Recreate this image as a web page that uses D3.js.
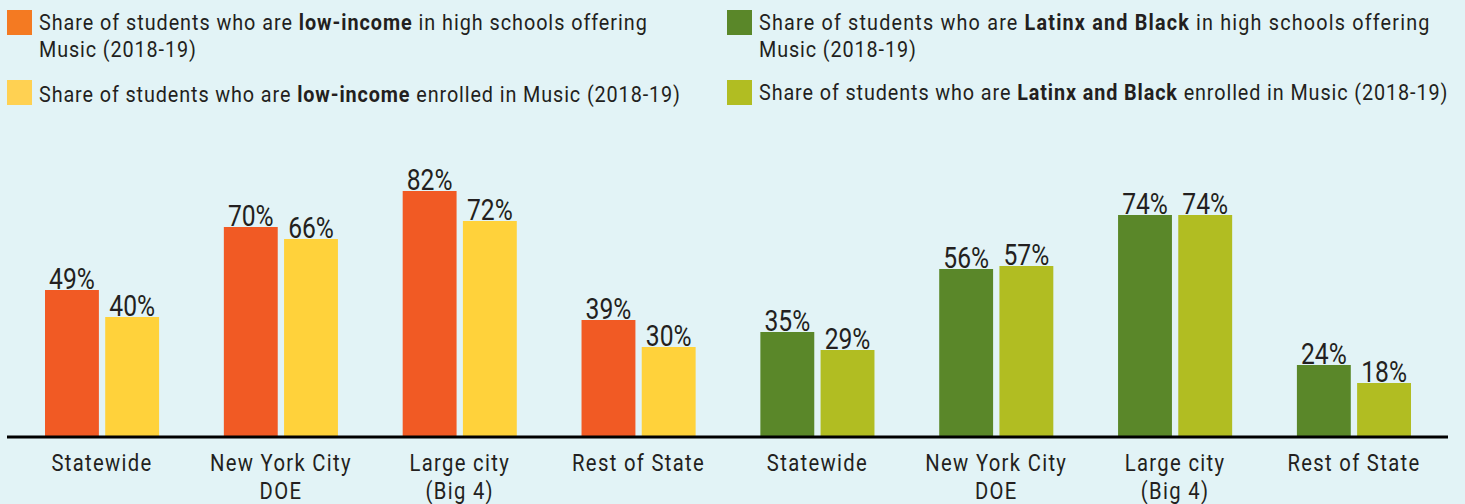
<!DOCTYPE html>
<html>
<head>
<meta charset="utf-8">
<script src="https://cdn.jsdelivr.net/npm/d3@7"></script>
<style>
  html, body { margin: 0; padding: 0; background: #E2F3F6; }
  svg { display: block; }
  .t { font-family: Roboto, "Liberation Sans", sans-serif; fill: #231F20; }
</style>
</head>
<body>
<svg id="chart" width="1465" height="504"></svg>
<script>
// ---- data ----
const categories = ["Statewide", "New York City|DOE", "Large city|(Big 4)", "Rest of State"];
const lowIncomeOffering = [49, 70, 82, 39];
const lowIncomeEnrolled = [40, 66, 72, 30];
const latinxBlackOffering = [35, 56, 74, 24];
const latinxBlackEnrolled = [29, 57, 74, 18];
const legendItems = [
  { pre: "Share of students who are ", bold: "low-income", post: " in high schools offering", line2: "Music (2018-19)" },
  { pre: "Share of students who are ", bold: "low-income", post: " enrolled in Music (2018-19)", line2: "" },
  { pre: "Share of students who are ", bold: "Latinx and Black", post: " in high schools offering", line2: "Music (2018-19)" },
  { pre: "Share of students who are ", bold: "Latinx and Black", post: " enrolled in Music (2018-19)", line2: "" }
];

const colors = { orange: "#F15A24", yellow: "#FFD23B", green: "#5A8729", lime: "#B1BD22" };
const legendColors = ["#F47A22", "#FFD152", "#5A8729", "#B1BD22"];

// build groups
const groups = [];
categories.forEach((c, i) => groups.push({ key: "li" + i, label: c, vals: [lowIncomeOffering[i], lowIncomeEnrolled[i]], cols: [colors.orange, colors.yellow] }));
categories.forEach((c, i) => groups.push({ key: "lb" + i, label: c, vals: [latinxBlackOffering[i], latinxBlackEnrolled[i]], cols: [colors.green, colors.lime] }));

const svg = d3.select("#chart");
const x = d3.scaleBand().domain(groups.map(g => g.key)).range([45, 1411]).paddingInner(0.362).paddingOuter(0);
const xs = d3.scaleBand().domain([0, 1]).range([0, x.bandwidth()]).paddingInner(0.105).paddingOuter(0);
const y = d3.scaleLinear().domain([0, 100]).range([437, 137]);

const g = svg.selectAll("g.grp").data(groups).join("g").attr("class", "grp")
  .attr("transform", d => `translate(${x(d.key)},0)`);

g.selectAll("rect").data(d => d.vals.map((v, j) => ({ v, j, c: d.cols[j] }))).join("rect")
  .attr("x", d => xs(d.j)).attr("width", xs.bandwidth())
  .attr("y", d => y(d.v)).attr("height", d => y(0) - y(d.v))
  .attr("fill", d => d.c);

g.selectAll("text.val").data(d => d.vals.map((v, j) => ({ v, j }))).join("text")
  .attr("class", "t val")
  .attr("transform", d => `translate(${xs(d.j) + xs.bandwidth() / 2},${y(d.v) - 1.5}) scale(0.85,1)`)
  .attr("text-anchor", "middle")
  .style("font-size", "29px")
  .text(d => d.v + "%");

// axis line
svg.append("line").attr("x1", 7).attr("x2", 1448).attr("y1", y(0)).attr("y2", y(0))
  .attr("stroke", "#000").attr("stroke-width", 3);

// category labels
g.append("text").attr("class", "t cat")
  .attr("transform", `translate(${x.bandwidth() / 2},471) scale(0.88,1)`)
  .attr("text-anchor", "middle")
  .style("font-size", "23px").style("letter-spacing", "1.5px")
  .selectAll("tspan").data(d => d.label.split("|")).join("tspan")
  .attr("x", 0).attr("dy", (d, i) => i === 0 ? 0 : 28.5)
  .text(d => d);

// legend
const legPos = [ [7, 10], [7, 80], [727, 10], [727, 80] ];
const legBase = [29.5, 101.5, 29.5, 99.5];
const legSpacing = [1.07, 1, 1.32, 1];
const lg = svg.selectAll("g.leg").data(legendItems).join("g").attr("class", "leg");
lg.append("rect").attr("x", (d, i) => legPos[i][0]).attr("y", (d, i) => legPos[i][1])
  .attr("width", 25).attr("height", 25).attr("fill", (d, i) => legendColors[i]);
const lt = lg.append("text").attr("class", "t")
  .attr("transform", (d, i) => `translate(${legPos[i][0] + 32},${legBase[i]}) scale(0.9,1)`)
  .style("font-size", "22px").style("letter-spacing", (d, i) => legSpacing[i] + "px");
lt.append("tspan").text(d => d.pre);
lt.append("tspan").style("font-weight", "bold").text(d => d.bold);
lt.append("tspan").text(d => d.post);
lg.append("text").attr("class", "t")
  .attr("transform", (d, i) => `translate(${legPos[i][0] + 32},${legBase[i] + 27.5}) scale(0.9,1)`)
  .style("font-size", "22px").style("letter-spacing", "1px")
  .text(d => d.line2);
</script>
</body>
</html>
